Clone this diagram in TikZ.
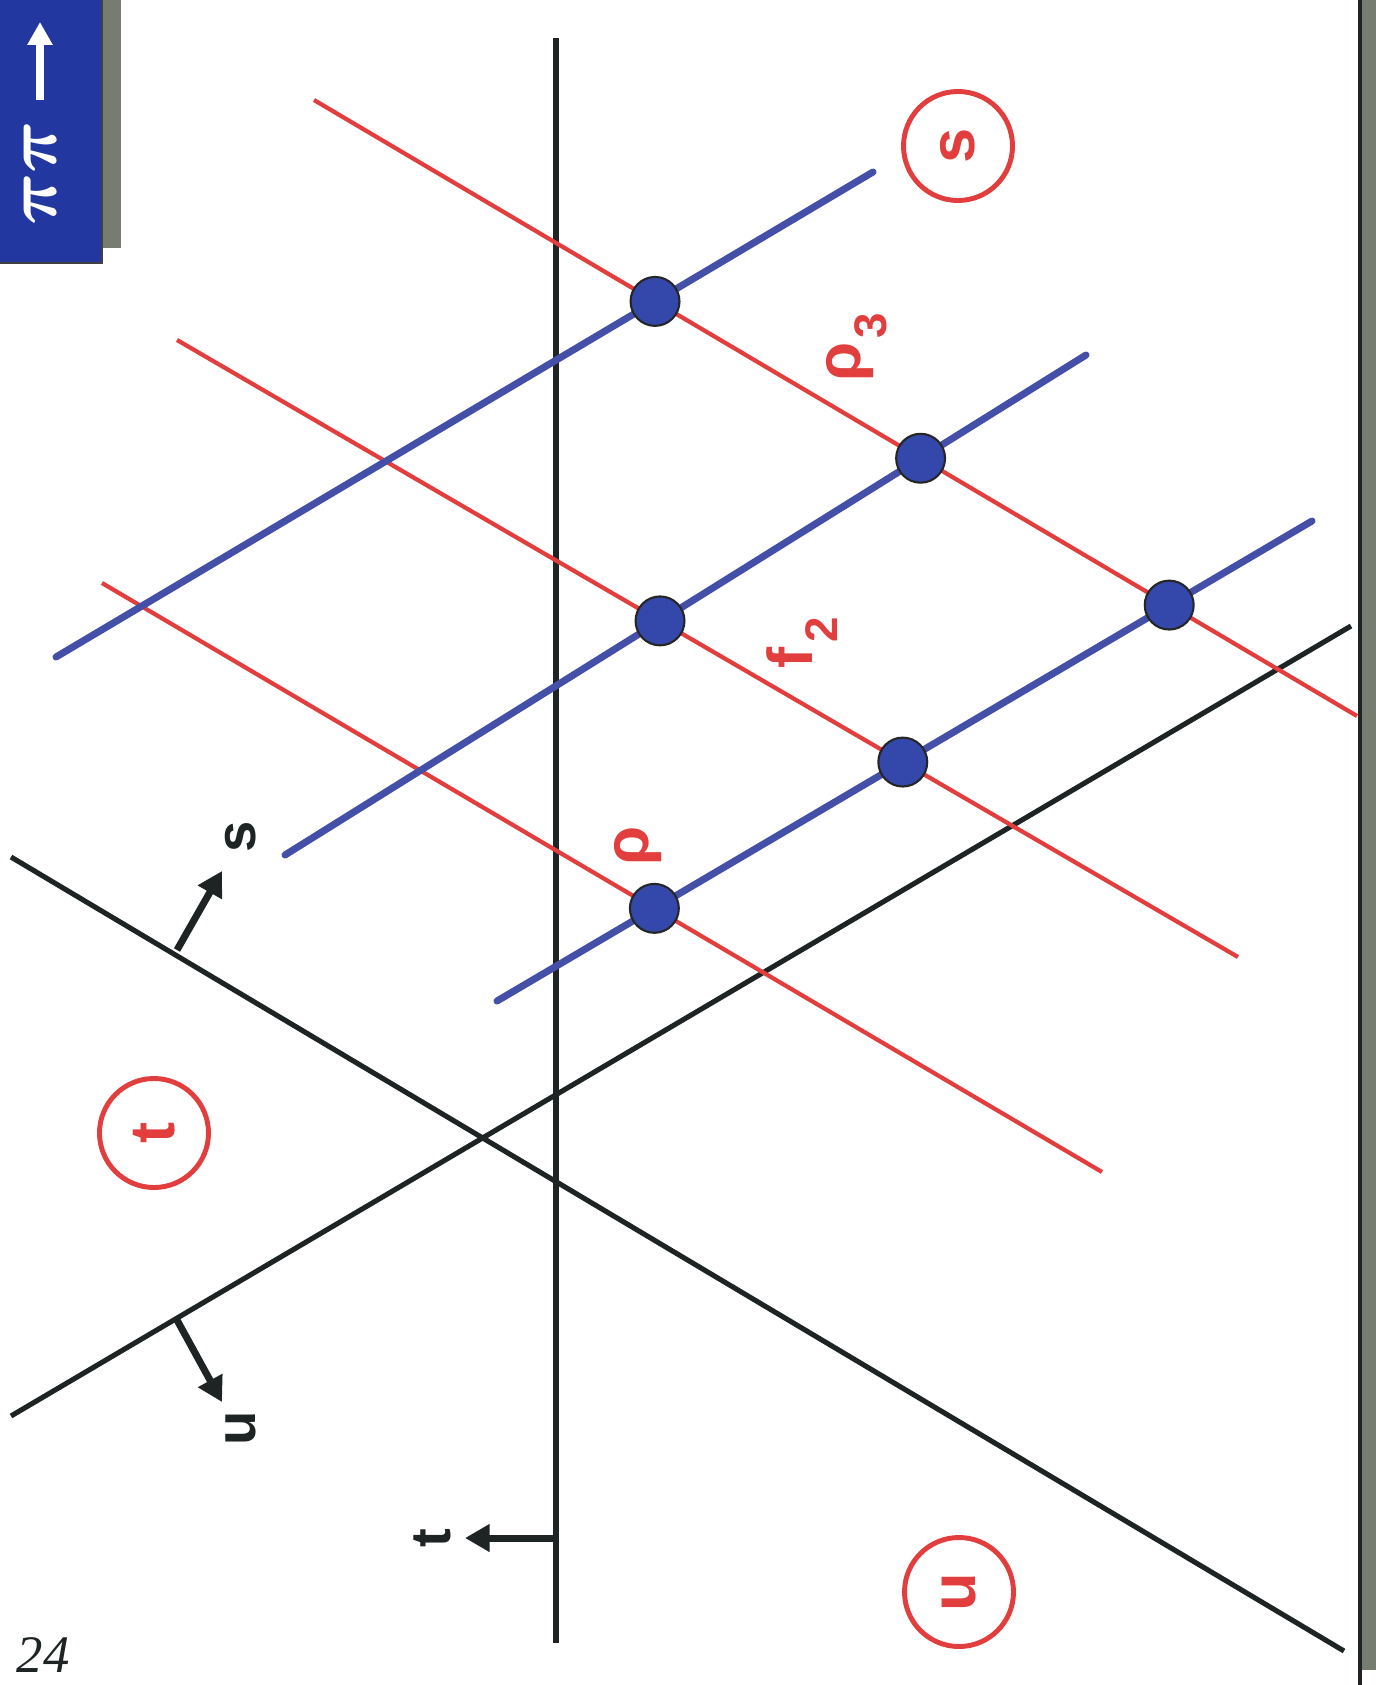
\documentclass[tikz,border=0pt]{standalone}
\usepackage{fontspec}
\setmainfont{Liberation Sans}
\newfontfamily\handfont{Liberation Serif}
\usetikzlibrary{arrows.meta}
\definecolor{redl}{RGB}{226,62,62}
\definecolor{bluel}{RGB}{68,80,168}
\definecolor{dotb}{RGB}{52,72,172}
\definecolor{boxb}{RGB}{35,55,160}
\definecolor{grayb}{RGB}{118,124,112}
\definecolor{inkb}{RGB}{30,36,36}
\begin{document}
\begin{tikzpicture}[x=0.01cm,y=-0.01cm,
  blkline/.style={draw=inkb,line width=1.45pt},
  redline/.style={draw=redl,line width=1.2pt},
  blueline/.style={draw=bluel,line width=2pt},
  dotnode/.style={circle,fill=dotb,draw=black!85,line width=0.6pt,minimum size=13.9pt,inner sep=0pt},
  chan/.style={circle,draw=redl,line width=1.4pt,minimum size=31pt,inner sep=0pt,text=redl,
    font=\fontsize{18}{20}\selectfont\bfseries,rotate=90},
  blklabel/.style={text=inkb,font=\fontsize{16}{18}\selectfont\bfseries,rotate=90,inner sep=0pt},
  redlabel/.style={text=redl,font=\fontsize{18}{20}\selectfont\bfseries,rotate=90,inner sep=0pt},
  redsub/.style={text=redl,font=\fontsize{13}{15}\selectfont\bfseries,rotate=90,inner sep=0pt},
  dirarrow/.style={draw=inkb,line width=2pt,-{Triangle[length=7pt,width=7.5pt]}},
]
\useasboundingbox (0,0) rectangle (1376,1685);
\fill[white] (0,0) rectangle (1376,1685);

% corner tab
\fill[grayb] (100,0) rectangle (121,248);
\fill[boxb] (0,0) rectangle (102,263);
\draw[black!75,line width=0.6pt] (102,0) -- (102,263) -- (0,263);
\coordinate (wa) at (40,100);
\coordinate (wb) at (40,22);
\draw[white,line width=2.2pt,-{Triangle[length=6.5pt,width=6.8pt]}] (wa) -- (wb);
\node[text=white,rotate=90,inner sep=0pt,font=\fontsize{21}{22}\selectfont\boldmath] (pipi) at (40,173) {$\pi\pi$};

% right edge
\fill[grayb] (1361,0) rectangle (1376,1670);
\draw[inkb,line width=1.2pt] (1360,0) -- (1360,1685);

% black Mandelstam lines
\coordinate (ta) at (556,38);
\coordinate (tb) at (556,1643);
\coordinate (sa) at (11,857);
\coordinate (sb) at (1344,1651);
\coordinate (ua) at (11,1416);
\coordinate (ub) at (1351,626);
\draw[blkline] (ta) -- (tb);
\draw[blkline] (sa) -- (sb);
\draw[blkline] (ua) -- (ub);

% red lines
\coordinate (r1a) at (314,100);
\coordinate (r1b) at (1357,716);
\coordinate (r2a) at (177,340);
\coordinate (r2b) at (1238,957);
\coordinate (r3a) at (102,583);
\coordinate (r3b) at (1102,1172);
\draw[redline] (r1a) -- (r1b);
\draw[redline] (r2a) -- (r2b);
\draw[redline] (r3a) -- (r3b);

% blue lines
\coordinate (b1a) at (56,657);
\coordinate (b1b) at (873,172);
\coordinate (b2a) at (285,855);
\coordinate (b2b) at (1086,355);
\coordinate (b3a) at (497,1001);
\coordinate (b3b) at (1312,521);
\draw[blueline,line cap=round] (b1a) -- (b1b);
\draw[blueline,line cap=round] (b2a) -- (b2b);
\draw[blueline,line cap=round] (b3a) -- (b3b);

% dots
\node[dotnode] (d1) at (intersection of r1a--r1b and b1a--b1b) {};
\node[dotnode] (d2) at (intersection of r1a--r1b and b2a--b2b) {};
\node[dotnode] (d3) at (intersection of r2a--r2b and b2a--b2b) {};
\node[dotnode] (d4) at (intersection of r1a--r1b and b3a--b3b) {};
\node[dotnode] (d5) at (intersection of r2a--r2b and b3a--b3b) {};
\node[dotnode] (d6) at (intersection of r3a--r3b and b3a--b3b) {};

% red labels
\node[redlabel] (rho) at (638,846) {ρ};
\node[redlabel] (rho3) at (850,362) {ρ};
\node[redsub] (rho3sub) at (871,326) {3};
\node[redlabel] (f2) at (790,658) {f};
\node[redsub] (f2sub) at (822,630) {2};

% channel circles
\node[chan] (cs) at (958,146) {s};
\node[chan] (ct) at (154,1133) {t};
\node[chan] (cu) at (959,1592) {u};

% direction arrows
\coordinate (sarrA) at (177,950);
\coordinate (sarrB) at (222,871);
\coordinate (uarrA) at (177,1320);
\coordinate (uarrB) at (222,1402);
\coordinate (tarrA) at (556,1538);
\coordinate (tarrB) at (465,1538);
\draw[dirarrow] (sarrA) -- (sarrB);
\draw[dirarrow] (uarrA) -- (uarrB);
\draw[dirarrow] (tarrA) -- (tarrB);
\node[blklabel] (slab) at (241,837) {s};
\node[blklabel] (ulab) at (241,1428) {u};
\node[blklabel] (tlab) at (432,1538) {t};

% page note
\node[text=inkb,inner sep=0pt,font=\handfont\itshape\fontsize{15}{16}\selectfont] (pg) at (43,1655) {24};
\end{tikzpicture}
\end{document}
